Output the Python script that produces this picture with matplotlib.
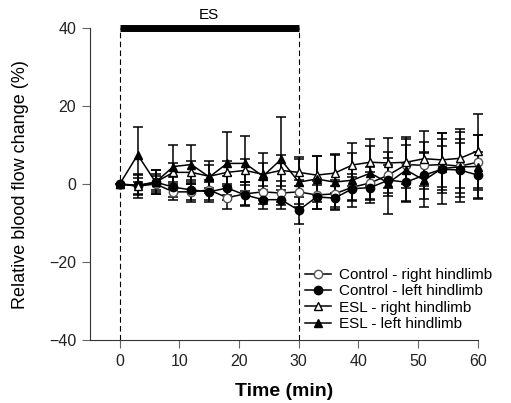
import matplotlib
matplotlib.use("Agg")
import matplotlib.pyplot as plt
from matplotlib.lines import Line2D
import numpy as np

plt.rcParams['font.family'] = ['Liberation Sans', 'DejaVu Sans']

time = [0, 3, 6, 9, 12, 15, 18, 21, 24, 27, 30, 33, 36, 39, 42, 45, 48, 51, 54, 57, 60]

ctrl_right = [0, -0.5, 0, -2, -2, -1.5, -3.5, -2.5, -2, -2.3, -2, -2.8, -2.5, -0.8, 0.3, 2.3, 5, 4.8, 5, 4.6, 5.6]
ctrl_right_sd = [0, 2, 2, 2, 2.5, 2.5, 3, 3, 3, 3, 3, 3.5, 3.5, 3.5, 4, 4.5, 5, 6, 6.5, 7, 7]

ctrl_left = [0, -0.3, 0.5, -0.8, -1.5, -2, -1, -2.8, -4, -4, -6.7, -3.3, -3.6, -1.2, -0.9, 1, 0.5, 2.3, 3.8, 3.6, 2.3]
ctrl_left_sd = [0, 2.5, 3, 2.5, 2.5, 2.5, 3, 2.5, 2.5, 2.5, 3.5, 3, 3, 3, 4, 4, 5, 6, 6, 7, 6]

esl_right = [0, -0.5, 0.5, 3, 3, 2, 3, 3.5, 2.5, 3.5, 3, 2.3, 2.8, 4.9, 5.6, 5.4, 5.6, 6.5, 6.2, 6.6, 8.5]
esl_right_sd = [0, 3, 2, 2.5, 3, 3, 3, 3, 3, 4, 3.5, 5, 5, 5.5, 6, 6.5, 6.5, 7, 7, 7.5, 9.5]

esl_left = [0, 7.5, 0.5, 4.5, 5, 1.8, 5.3, 5.3, 2, 6.3, 0.5, 1.3, 0.5, 1, 2.8, 0.3, 3.6, 1, 4, 4.4, 4.5]
esl_left_sd = [0, 7, 3, 5.5, 5, 4, 8, 7, 6, 11, 6.5, 6, 7, 7, 7, 8, 8, 7, 9, 9, 8]

es_period = [0, 30]
es_level = 40

fig = plt.figure(figsize=(5.11, 4.03), dpi=100)
ax = fig.add_axes([0.176, 0.156, 0.759, 0.7745])

series = [
    (ctrl_right, ctrl_right_sd, 'o', 'white', 'Control - right hindlimb', '#555555'),
    (ctrl_left, ctrl_left_sd, 'o', 'black', 'Control - left hindlimb', 'black'),
    (esl_right, esl_right_sd, '^', 'white', 'ESL - right hindlimb', 'black'),
    (esl_left, esl_left_sd, '^', 'black', 'ESL - left hindlimb', 'black'),
]
handles = []
for vals, sd, mk, fc, lab, ec in series:
    ax.errorbar(time, vals, yerr=sd, fmt='-', marker=mk, color='black',
                mfc=fc, mec=ec, ms=6, lw=1.1, elinewidth=1.1, capsize=3.5,
                capthick=1.1, clip_on=False, zorder=3)
    handles.append(Line2D([], [], color='black', lw=1.1, marker=mk, mfc=fc, mec=ec, ms=6, label=lab))

# ES stimulation period
ax.plot(es_period, [es_level, es_level], color='black', lw=5, solid_capstyle='butt', clip_on=False, zorder=4)
for xv in es_period:
    ax.plot([xv, xv], [-40, es_level], color='black', lw=0.8, ls=(0, (5, 3)), clip_on=False, zorder=2)
ax.text(15, 41.5, 'ES', ha='center', va='bottom', fontsize=11)

ax.set_xlim(-5, 60)
ax.set_ylim(-40, 40)
ax.set_xticks([0, 10, 20, 30, 40, 50, 60])
ax.set_yticks([-40, -20, 0, 20, 40])
ax.spines['top'].set_visible(False)
ax.spines['right'].set_visible(False)
for s in ['left', 'bottom']:
    ax.spines[s].set_linewidth(0.8)
    ax.spines[s].set_color('#333333')
ax.tick_params(direction='out', length=6, width=0.8, labelsize=11.5, pad=4,
               color='#666666', labelcolor='#222222')

ax.set_xlabel('Time (min)', fontsize=14, fontweight='bold', labelpad=10)
ax.set_ylabel('Relative blood flow change (%)', fontsize=13, labelpad=14)

leg = ax.legend(handles=handles, loc='lower right', bbox_to_anchor=(1.06, 0.0), frameon=False,
                fontsize=11, handlelength=1.7, handletextpad=0.5, labelspacing=0.15,
                borderaxespad=0.2)

fig.savefig('out.png', dpi=100)
